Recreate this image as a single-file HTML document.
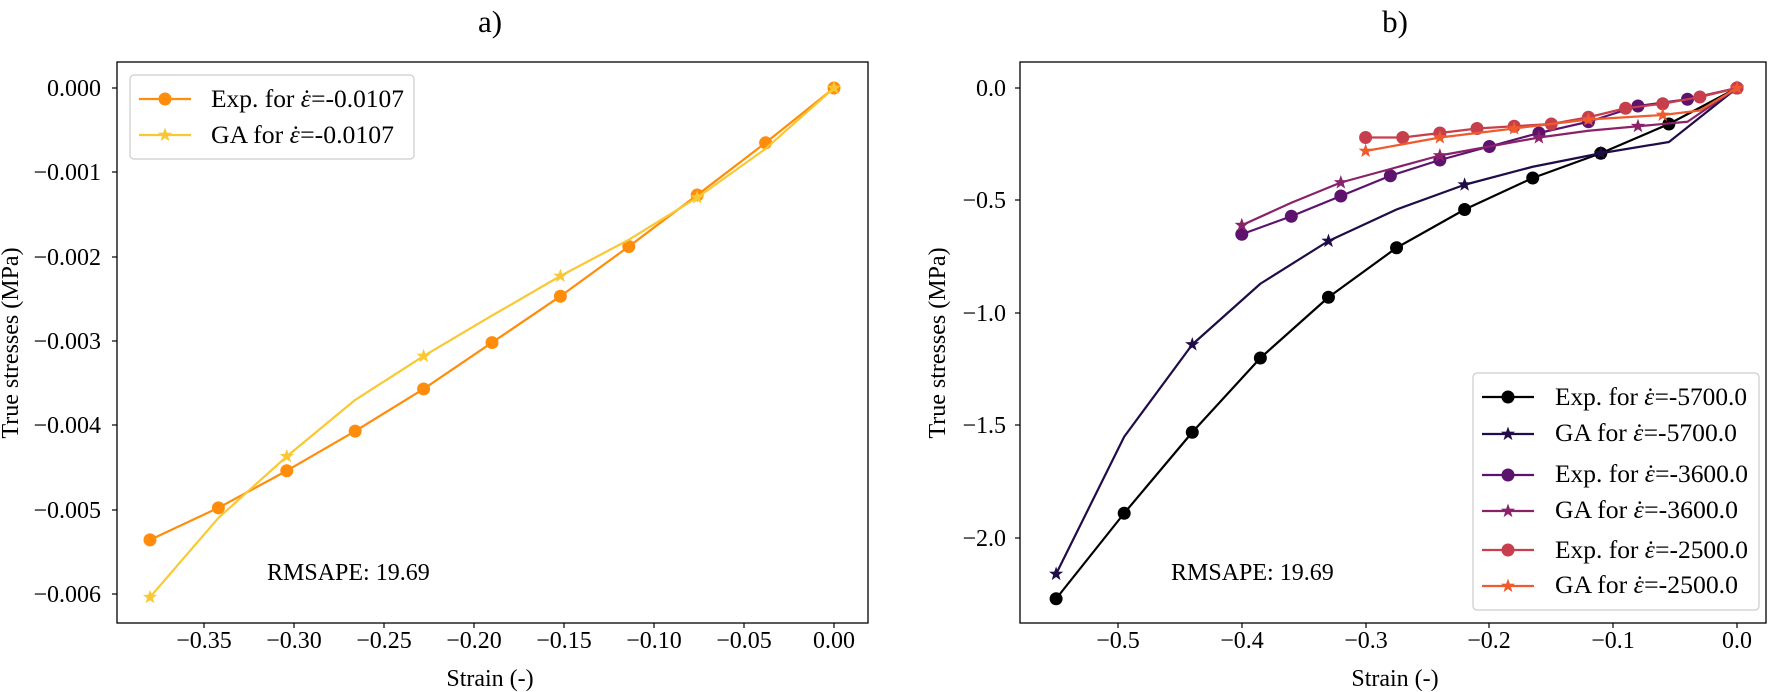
<!DOCTYPE html>
<html><head><meta charset="utf-8"><style>
html,body{margin:0;padding:0;background:#fff;}
svg{display:block;font-family:"Liberation Serif",serif;}
</style></head><body>
<svg id="s" width="1773" height="692" viewBox="0 0 1773 692" xmlns="http://www.w3.org/2000/svg">
<rect width="1773" height="692" fill="#fff"/>
<text x="490" y="32" font-size="31" text-anchor="middle">a)</text>
<text x="1395" y="32" font-size="31" text-anchor="middle">b)</text>
<g id="plots"></g>
<rect x="117" y="62" width="751" height="561" fill="none" stroke="#000" stroke-width="1.3"/>
<rect x="1020" y="62" width="746" height="561" fill="none" stroke="#000" stroke-width="1.3"/>
<g font-size="24" fill="#000">
<g text-anchor="end">
<text x="101" y="96">0.000</text>
<text x="101" y="180">−0.001</text>
<text x="101" y="265">−0.002</text>
<text x="101" y="349">−0.003</text>
<text x="101" y="433">−0.004</text>
<text x="101" y="518">−0.005</text>
<text x="101" y="602">−0.006</text>
<text x="1006" y="96">0.0</text>
<text x="1006" y="208">−0.5</text>
<text x="1006" y="321">−1.0</text>
<text x="1006" y="433">−1.5</text>
<text x="1006" y="546">−2.0</text>
</g>
<g text-anchor="middle">
<text x="204" y="648">−0.35</text>
<text x="294" y="648">−0.30</text>
<text x="384" y="648">−0.25</text>
<text x="474" y="648">−0.20</text>
<text x="564" y="648">−0.15</text>
<text x="654" y="648">−0.10</text>
<text x="744" y="648">−0.05</text>
<text x="834" y="648">0.00</text>
<text x="1118" y="648">−0.5</text>
<text x="1242" y="648">−0.4</text>
<text x="1366" y="648">−0.3</text>
<text x="1489" y="648">−0.2</text>
<text x="1613" y="648">−0.1</text>
<text x="1737" y="648">0.0</text>
<text x="490" y="686">Strain (-)</text>
<text x="1395" y="686">Strain (-)</text>
</g>
<text transform="translate(18,343) rotate(-90)" text-anchor="middle">True stresses (MPa)</text>
<text transform="translate(945,343) rotate(-90)" text-anchor="middle">True stresses (MPa)</text>
<text x="267" y="580">RMSAPE: 19.69</text>
<text x="1171" y="580">RMSAPE: 19.69</text>
</g>
<g id="ticks" stroke="#000" stroke-width="1.2"></g>
<rect x="130" y="75" width="284" height="84" rx="4" fill="#fff" fill-opacity="0.8" stroke="#ccc" stroke-width="1.2"/>
<rect x="1473" y="373" width="286" height="237" rx="4" fill="#fff" fill-opacity="0.8" stroke="#ccc" stroke-width="1.2"/>
<g id="leg"></g>
<g font-size="25">
<text x="211" y="107" textLength="193" lengthAdjust="spacingAndGlyphs">Exp. for <tspan font-style="italic">ε</tspan><tspan dx="-8">˙</tspan>=-0.0107</text>
<text x="211" y="143" textLength="183" lengthAdjust="spacingAndGlyphs">GA for <tspan font-style="italic">ε</tspan><tspan dx="-8">˙</tspan>=-0.0107</text>
<text x="1555" y="405" textLength="192" lengthAdjust="spacingAndGlyphs">Exp. for <tspan font-style="italic">ε</tspan><tspan dx="-8">˙</tspan>=-5700.0</text>
<text x="1555" y="441" textLength="182" lengthAdjust="spacingAndGlyphs">GA for <tspan font-style="italic">ε</tspan><tspan dx="-8">˙</tspan>=-5700.0</text>
<text x="1555" y="482" textLength="193" lengthAdjust="spacingAndGlyphs">Exp. for <tspan font-style="italic">ε</tspan><tspan dx="-8">˙</tspan>=-3600.0</text>
<text x="1555" y="518" textLength="183" lengthAdjust="spacingAndGlyphs">GA for <tspan font-style="italic">ε</tspan><tspan dx="-8">˙</tspan>=-3600.0</text>
<text x="1555" y="558" textLength="193" lengthAdjust="spacingAndGlyphs">Exp. for <tspan font-style="italic">ε</tspan><tspan dx="-8">˙</tspan>=-2500.0</text>
<text x="1555" y="593" textLength="183" lengthAdjust="spacingAndGlyphs">GA for <tspan font-style="italic">ε</tspan><tspan dx="-8">˙</tspan>=-2500.0</text>
</g>
</svg>
<script>
const NS="http://www.w3.org/2000/svg";
const P=document.getElementById('plots'),L=document.getElementById('leg'),T=document.getElementById('ticks');
function el(p,t,a){const e=document.createElementNS(NS,t);for(const k in a)e.setAttribute(k,a[k]);p.appendChild(e);return e;}
function star(x,y,r){let d='';for(let i=0;i<10;i++){const rr=i%2?r*0.4:r;const a=-Math.PI/2+i*Math.PI/5;d+=(i?'L':'M')+(x+rr*Math.cos(a)).toFixed(1)+','+(y+rr*Math.sin(a)).toFixed(1);}return d+'Z';}
function marker(g,x,y,type,c){if(type==='o')el(g,'circle',{cx:x,cy:y,r:6.5,fill:c});else el(g,'path',{d:star(x,y,7.5),fill:c});}
function series(xs,ys,fx,fy,c,type){const pts=xs.map((x,i)=>[fx(x),fy(ys[i])]);
el(P,'polyline',{points:pts.map(p=>p.join(',')).join(' '),fill:'none',stroke:c,'stroke-width':2.2,'stroke-linejoin':'round'});
pts.forEach((p,i)=>{if(type==='o'||i%2===0)marker(P,p[0],p[1],type,c);});}
const lx=x=>834+1800*x, ly=y=>88-84300*y;
const X1=[-0.38,-0.342,-0.304,-0.266,-0.228,-0.19,-0.152,-0.114,-0.076,-0.038,0];
series(X1,[-0.00536,-0.00498,-0.00454,-0.00407,-0.00357,-0.00302,-0.00247,-0.00188,-0.00127,-0.00065,0],lx,ly,'#ff8c0a','o');
series(X1,[-0.00604,-0.0051,-0.00437,-0.0037,-0.00318,-0.0027,-0.00223,-0.0018,-0.0013,-0.00072,0],lx,ly,'#f9c832','*');
const rx=x=>1737+1238*x, ry=y=>88-225*y;
const a=[],b=[],c=[];for(let i=0;i<=10;i++){a.push(-0.55+0.055*i);b.push(-0.4+0.04*i);c.push(-0.3+0.03*i);}
series(a,[-2.27,-1.89,-1.53,-1.20,-0.93,-0.71,-0.54,-0.40,-0.29,-0.16,0],rx,ry,'#000000','o');
series(a,[-2.16,-1.55,-1.14,-0.87,-0.68,-0.54,-0.43,-0.35,-0.29,-0.24,0],rx,ry,'#1f0c48','*');
series(b,[-0.65,-0.57,-0.48,-0.39,-0.32,-0.26,-0.20,-0.15,-0.08,-0.05,0],rx,ry,'#5d126e','o');
series(b,[-0.61,-0.51,-0.42,-0.36,-0.30,-0.26,-0.22,-0.19,-0.17,-0.15,0],rx,ry,'#8a226a','*');
series(c,[-0.22,-0.22,-0.20,-0.18,-0.17,-0.16,-0.13,-0.09,-0.07,-0.04,0],rx,ry,'#c73e4c','o');
series(c,[-0.28,-0.25,-0.22,-0.20,-0.18,-0.16,-0.14,-0.13,-0.12,-0.10,0],rx,ry,'#ee5b2c','*');
[88,172,257,341,425,510,594].forEach(y=>el(T,'line',{x1:112,x2:117,y1:y,y2:y}));
[88,200,313,425,538].forEach(y=>el(T,'line',{x1:1015,x2:1020,y1:y,y2:y}));
[204,294,384,474,564,654,744,834,1118,1242,1366,1489,1613,1737].forEach(x=>el(T,'line',{x1:x,x2:x,y1:623,y2:628}));
function leg(x,y,c,t){el(L,'line',{x1:x-26,x2:x+26,y1:y,y2:y,stroke:c,'stroke-width':2.2});marker(L,x,y,t,c);}
leg(165,99,'#ff8c0a','o');leg(165,135,'#f9c832','*');
const ly2=[397,434,475,511,550,586],cs=['#000000','#1f0c48','#5d126e','#8a226a','#c73e4c','#ee5b2c'];
ly2.forEach((y,i)=>leg(1508,y,cs[i],i%2?'*':'o'));
</script>
</body></html>
